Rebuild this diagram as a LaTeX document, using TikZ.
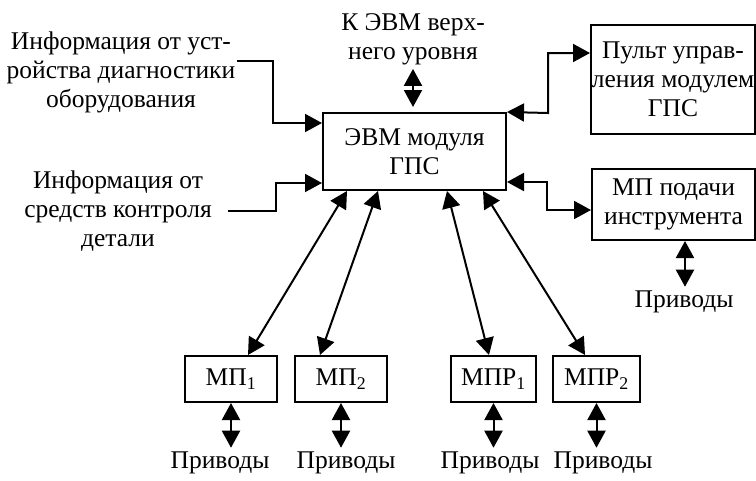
\documentclass[tikz,border=0pt]{standalone}
\usepackage{fontspec}
\setmainfont{Liberation Serif}
\usetikzlibrary{arrows.meta}

\begin{document}
\begin{tikzpicture}[x=1pt,y=-1pt,
  every node/.style={font=\fontsize{25.5}{29}\selectfont},
  box/.style={draw, line width=2pt, inner sep=0pt, align=center},
  lbl/.style={align=center, inner sep=0pt},
  link/.style={line width=2pt, {Triangle[length=17pt,width=18pt]}-{Triangle[length=17pt,width=18pt]}},
  feed/.style={line width=2pt, -{Triangle[length=17pt,width=18pt]}}]
\useasboundingbox (0,0) rectangle (756,480);

% Blocks
\node[box, minimum width=183pt, minimum height=77pt] (M) at (414.5,151.5) {ЭВМ модуля\\ГПС};
\node[box, minimum width=164pt, minimum height=109pt] (P) at (673,79) {Пульт управ-\\ления модулем\\ГПС};
\node[box, minimum width=163pt, minimum height=71pt] (T) at (673.5,204.5) {МП подачи\\инструмента};
\node[box, minimum width=92pt, minimum height=46pt] (MP1) at (231,379) {МП\textsubscript{1}};
\node[box, minimum width=92pt, minimum height=46pt] (MP2) at (341,379) {МП\textsubscript{2}};
\node[box, minimum width=85pt, minimum height=46pt] (MPR1) at (493.5,379) {МПР\textsubscript{1}};
\node[box, minimum width=87pt, minimum height=46pt] (MPR2) at (596.5,379) {МПР\textsubscript{2}};

% Labels
\node[lbl] (up) at (413,39) {К ЭВМ верх-\\него уровня};
\node[lbl] (in1) at (121,72) {Информация от уст-\\ройства диагностики\\оборудования};
\node[lbl] (in2) at (118,211) {Информация от\\средств контроля\\детали};
\node[lbl] (drT) at (684,302) {Приводы};
\node[lbl] (dr1) at (220,463) {Приводы};
\node[lbl] (dr2) at (346,463) {Приводы};
\node[lbl] (dr3) at (490,463) {Приводы};
\node[lbl] (dr4) at (603,463) {Приводы};
\coordinate (s1) at (237,61);
\coordinate (s2) at (228,211);

% Edges
\draw[link] ([yshift=5pt]M.north -| up.south) -- ([yshift=-4pt]up.south);
\draw[link] (M.north east) -- (548,113) |- (P.west |- 0,53);
\draw[link] (M.east |- 0,182) -- (547,182) |- (T.west |- 0,210);
\draw[feed] (s1) -| (273,123) -- (M.west |- 0,123);
\draw[feed] (s2) -| (276,183) -- (M.west |- 0,183);
\draw[link] (MP1.north -| 248,0) -- (M.south -| 347,0);
\draw[link] (MP2.north -| 320,0) -- (M.south -| 378,0);
\draw[link] (MPR1.north -| 489,0) -- (M.south -| 447,0);
\draw[link] (MPR2.north -| 585,0) -- (M.south -| 483,0);
\draw[link] (T.south -| 685,0) -- ([yshift=4pt]drT.north -| 685,0);
\draw[link] (MP1.south) -- ([yshift=4pt]dr1.north -| MP1.south);
\draw[link] (MP2.south) -- ([yshift=4pt]dr2.north -| MP2.south);
\draw[link] (MPR1.south) -- ([yshift=4pt]dr3.north -| MPR1.south);
\draw[link] (MPR2.south) -- ([yshift=4pt]dr4.north -| MPR2.south);
\end{tikzpicture}
\end{document}
